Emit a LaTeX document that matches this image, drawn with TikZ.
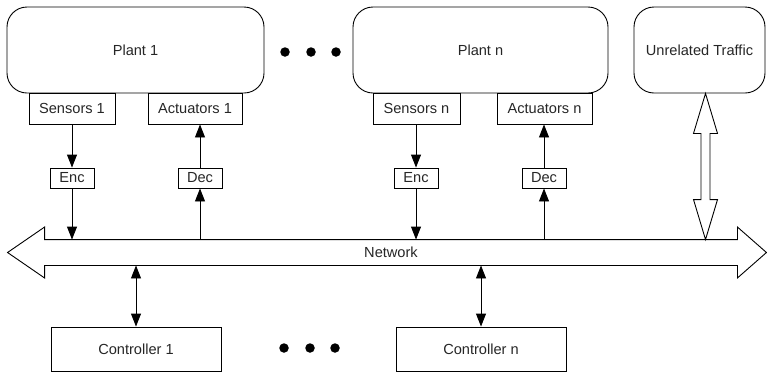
\documentclass[tikz,border=0pt]{standalone}
\usepackage{fontspec}
\setmainfont{Liberation Sans}
\usetikzlibrary{arrows.meta,calc}
\begin{document}
\begin{tikzpicture}[x=1pt,y=-1pt,
  line width=0.9pt,
  every node/.style={font=\fontsize{14.6}{17}\selectfont, text=black!85, inner sep=0pt},
  plantbox/.style={draw, rounded corners=20pt, minimum height=86pt, minimum width=#1},
  portbox/.style={draw, minimum height=31pt, minimum width=#1},
  codecbox/.style={draw, minimum height=20pt, minimum width=44pt},
  ctrlbox/.style={draw, minimum height=44pt, minimum width=170pt},
  link/.style={-{Triangle[length=13pt,width=10pt]}},
  duplex/.style={{Triangle[length=13pt,width=10pt]}-{Triangle[length=13pt,width=10pt]}},
  hollow/.style={draw, fill=white, line join=miter},
  dot/.style={fill=black, circle, minimum size=9.5pt}
]
\useasboundingbox (0,0) rectangle (767,373);

% plants and unrelated traffic source
\node[plantbox=257pt] (plant1) at (135.5,50) {Plant 1};
\node[plantbox=255pt] (plantn) at (480.5,50) {Plant n};
\node[plantbox=131pt] (ut) at (699.5,50) {Unrelated Traffic};

% sensors and actuators
\node[portbox=86pt] (sens1) at (72,108.5) {Sensors 1};
\node[portbox=94pt] (act1) at (195,108.5) {Actuators 1};
\node[portbox=87pt] (sensn) at (416.5,108.5) {Sensors n};
\node[portbox=95pt] (actn) at (544.5,108.5) {Actuators n};

% encoders and decoders
\node[codecbox] (enc1) at (72,178) {Enc};
\node[codecbox] (dec1) at (200,178) {Dec};
\node[codecbox] (encn) at (416,178) {Enc};
\node[codecbox] (decn) at (544,178) {Dec};

% controllers
\node[ctrlbox] (ctrl1) at (136,349) {Controller 1};
\node[ctrlbox] (ctrln) at (481,349) {Controller n};

% network shaft (outline drawn below)
\node[minimum width=692pt, minimum height=25pt] (net) at (391,252.5) {};
\draw[hollow] (net.north west) -- (net.north east)
  -- ($(net.north east)+(0,-12.5)$) -- ($(net.east)+(29,0)$)
  -- ($(net.south east)+(0,12.5)$) -- (net.south east)
  -- (net.south west) -- ($(net.south west)+(0,12.5)$)
  -- ($(net.west)+(-37,0)$) -- ($(net.north west)+(0,-12.5)$) -- cycle;
\node at (net.center) {Network};

% ellipses between plants and between controllers
\node[dot] (d1) at (285,52) {};
\node[dot] (d2) at (311,52) {};
\node[dot] (d3) at (336,52) {};
\node[dot] (d4) at (284,348) {};
\node[dot] (d5) at (310,348) {};
\node[dot] (d6) at (335,348) {};

% sensor paths
\draw[link] (sens1.south) -- (enc1.north);
\draw[link] (enc1.south) -- (enc1.south |- net.north);
\draw[link] (sensn.south -| encn.north) -- (encn.north);
\draw[link] (encn.south) -- (encn.south |- net.north);

% actuator paths
\draw[link] (dec1.south |- net.north) -- (dec1.south);
\draw[link] (dec1.north) -- (dec1.north |- act1.south);
\draw[link] (decn.south |- net.north) -- (decn.south);
\draw[link] (decn.north) -- (decn.north |- actn.south);

% controller links
\draw[duplex] (ctrl1.north |- net.south) -- (ctrl1.north);
\draw[duplex] (ctrln.north |- net.south) -- (ctrln.north);

% hollow double arrow for unrelated traffic
\coordinate (uta) at ([xshift=6pt]ut.south);
\coordinate (utb) at (uta |- net.north);
\draw[hollow] (uta) -- ++(12,40) -- ++(-7.5,0) -- ($(utb)+(4.5,-40)$)
  -- ++(7.5,0) -- (utb) -- ++(-12,-40) -- ++(7.5,0)
  -- ($(uta)+(-4.5,40)$) -- ++(-7.5,0) -- cycle;
\end{tikzpicture}
\end{document}
